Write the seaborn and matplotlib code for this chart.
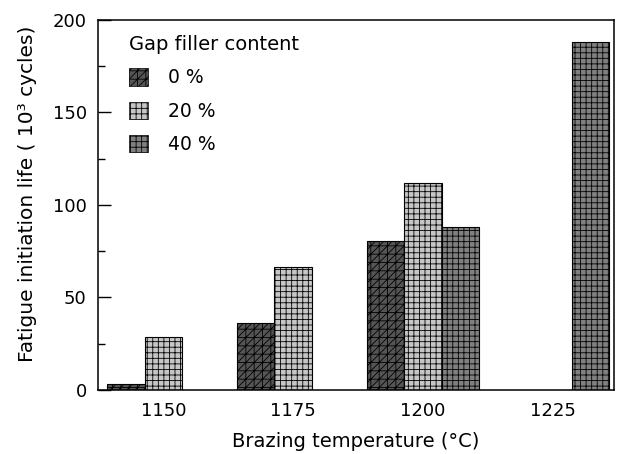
import numpy as np
import pandas as pd
import matplotlib
matplotlib.use("Agg")
import matplotlib.pyplot as plt
import matplotlib.patches as mpatches
import seaborn as sns

temperatures = ["1150", "1175", "1200", "1225"]
gap_levels = ["0 %", "20 %", "40 %"]
life_0 = [3.5, 36, 80.5, np.nan]
life_20 = [28.5, 66.5, 112, np.nan]
life_40 = [np.nan, np.nan, 88, 188]

rows = []
for lvl, vals in zip(gap_levels, [life_0, life_20, life_40]):
    for t, v in zip(temperatures, vals):
        rows.append({"temp": t, "gap": lvl, "life": v})
df = pd.DataFrame(rows)

sns.set_style("ticks")
plt.rcParams["font.family"] = ["DejaVu Sans"]
plt.rcParams["hatch.linewidth"] = 0.6
plt.rcParams["text.color"] = "black"
plt.rcParams["axes.labelcolor"] = "black"
plt.rcParams["xtick.color"] = "black"
plt.rcParams["ytick.color"] = "black"
plt.rcParams["axes.edgecolor"] = "black"

faces = ["#555555", "#c6c6c6", "#808080"]
hatches = ["++////", "+++", "+++"]

fig = plt.figure(figsize=(6.19, 4.54), dpi=100)
ax = fig.add_axes([0.158, 0.141, 0.834, 0.815])

sns.barplot(data=df, x="temp", y="life", hue="gap", order=temperatures,
            hue_order=gap_levels, palette=faces, width=0.867, gap=0,
            edgecolor="black", linewidth=0.8, saturation=1, errorbar=None,
            legend=False, ax=ax)

for cont, h in zip(ax.containers, hatches):
    for p in cont.patches:
        p.set_hatch(h)

ax.set_xlim(-0.505, 3.47)
ax.set_ylim(0, 200)
ax.set_yticks([0, 50, 100, 150, 200])
ax.set_yticks([25, 75, 125, 175], minor=True)
ax.tick_params(axis="y", which="major", direction="in", length=9, width=1,
               labelsize=13, pad=8)
ax.tick_params(axis="y", which="minor", direction="in", length=5, width=1)
ax.tick_params(axis="x", length=0, labelsize=13, pad=9)
for s in ax.spines.values():
    s.set_visible(True)
    s.set_linewidth(1.1)

ax.set_xlabel("Brazing temperature (°C)", fontsize=14, labelpad=8)
ax.set_ylabel("Fatigue initiation life ( 10³ cycles)", fontsize=14.5)
ax.yaxis.set_label_coords(-0.117, 0.53)

handles = [mpatches.Patch(facecolor=f, edgecolor="black", hatch=h,
                          linewidth=0.5, label=l)
           for f, h, l in zip(faces, hatches, gap_levels)]
ax.legend(handles=handles, title="Gap filler content", loc="upper left",
          bbox_to_anchor=(0.035, 0.995), frameon=False, fontsize=13.5,
          title_fontsize=14, alignment="left", handlelength=1.0,
          handleheight=1.05, handletextpad=1.1, labelspacing=0.76,
          borderaxespad=0.3)

fig.savefig("out.png", dpi=100)
